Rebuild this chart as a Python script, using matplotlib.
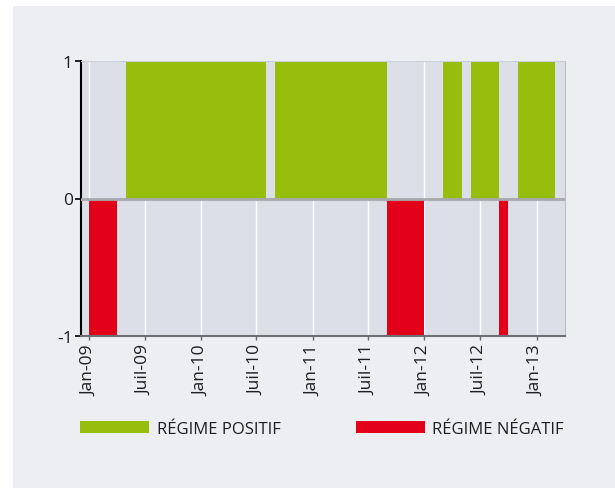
import pandas as pd
import matplotlib.pyplot as plt
import matplotlib.dates as mdates
from matplotlib.patches import Patch, Rectangle

plt.rcParams['font.family'] = ['Open Sans', 'DejaVu Sans']

# regime mensuel : 1 = positif, -1 = negatif, 0 = neutre (Jan-09 -> Mar-13)
mois = pd.date_range('2009-01-01', periods=51, freq='MS')
regime = [-1, -1, -1, 0, 1, 1, 1, 1, 1, 1, 1, 1,      # 2009
          1, 1, 1, 1, 1, 1, 1, 0, 1, 1, 1, 1,          # 2010
          1, 1, 1, 1, 1, 1, 1, 1, -1, -1, -1, -1,      # 2011
          0, 0, 1, 1, 0, 1, 1, 1, -1, 0, 1, 1,         # 2012
          1, 1, 0]                                     # 2013

tick_dates = pd.date_range('2009-01-01', '2013-01-01', freq='6MS')
tick_labels = ['Jan-09', 'Juil-09', 'Jan-10', 'Juil-10', 'Jan-11',
               'Juil-11', 'Jan-12', 'Juil-12', 'Jan-13']

vert = '#97BE0D'
rouge = '#E2001A'
fond = '#EDEEF2'
texte = '#1E1E1E'

fig = plt.figure(figsize=(6.15, 4.89), dpi=100, facecolor='white')
fig.patches.append(Rectangle((13/615, 0), 1, 1 - 7/489, transform=fig.transFigure,
                             facecolor=fond, edgecolor='none', zorder=-1))
ax = fig.add_axes([81/615, 1 - 337/489, 484/615, 275/489])
ax.set_zorder(1)
ax.set_facecolor('#DCDFE8')

largeurs = [(m + pd.offsets.MonthBegin(1) - m).days for m in mois]
pos = [1 if r == 1 else 0 for r in regime]
neg = [-1 if r == -1 else 0 for r in regime]
ax.bar(mois, pos, width=largeurs, align='edge', color=vert, linewidth=0, zorder=2)
ax.bar(mois, neg, width=largeurs, align='edge', color=rouge, linewidth=0, zorder=2)
ax.axhline(0, color='#A8A9AE', lw=2, zorder=3)

ax.set_xlim(mdates.date2num(pd.Timestamp('2008-12-05')), mdates.date2num(pd.Timestamp('2013-04-04')))
ax.set_ylim(-1, 1)
ax.set_yticks([-1, 0, 1])
ax.set_yticklabels(['-1', '0', '1'])
ax.set_xticks(tick_dates)
ax.set_xticklabels(tick_labels, rotation=90)
ax.grid(axis='x', color='white', lw=1, zorder=1)
ax.set_axisbelow(True)

ax.tick_params(axis='y', length=4, width=1.2, color='black', labelsize=12.5, pad=2,
               labelcolor=texte)
ax.tick_params(axis='x', length=3, width=1, color='#666666', labelsize=12.5, pad=3,
               labelcolor=texte)
ax.spines['left'].set_color('black')
ax.spines['left'].set_linewidth(1.5)
ax.spines['bottom'].set_color('#6E6F73')
ax.spines['bottom'].set_linewidth(1.5)
ax.spines['top'].set_color('#CDD0D8')
ax.spines['right'].set_color('#BCBEC4')

handles = [Patch(facecolor=vert, edgecolor='none', label='RÉGIME POSITIF'),
           Patch(facecolor=rouge, edgecolor='none', label='RÉGIME NÉGATIF')]
leg = fig.legend(handles=handles, loc='center left', bbox_to_anchor=(80/615, 1 - 430/489),
                 ncol=2, frameon=False, fontsize=12, handlelength=4.15, handleheight=0.72,
                 handletextpad=0.45, columnspacing=4.5, borderpad=0, borderaxespad=0)
for t in leg.get_texts():
    t.set_color(texte)

fig.savefig('out.png', dpi=100, facecolor=fig.get_facecolor())
